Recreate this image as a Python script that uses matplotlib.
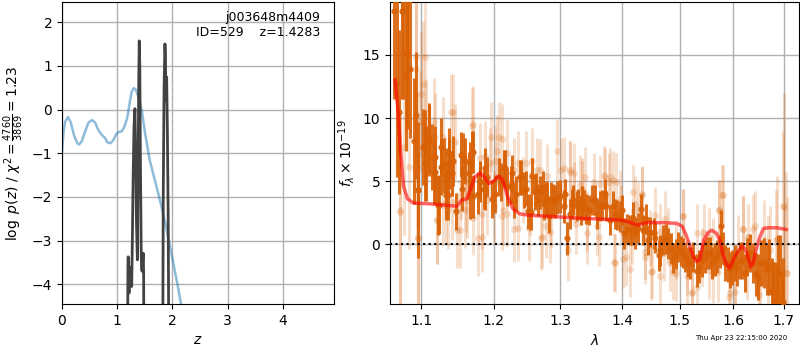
import numpy as np
import matplotlib
matplotlib.use("Agg")
import matplotlib.pyplot as plt
from matplotlib.ticker import FixedLocator, FixedFormatter, NullLocator

# ---------------- left panel data ----------------
z_prior = [0.00, 0.03, 0.06, 0.11, 0.16, 0.22, 0.28, 0.31, 0.36, 0.42, 0.48, 0.55,
           0.60, 0.65, 0.72, 0.78, 0.82, 0.88, 0.93, 0.98, 1.02, 1.08, 1.13, 1.18,
           1.22, 1.26, 1.30, 1.34, 1.38, 1.42, 1.45, 1.50, 1.59, 1.70, 1.80, 1.90,
           2.00, 2.10, 2.20]
logp_prior = [-0.95, -0.50, -0.27, -0.17, -0.30, -0.60, -0.78, -0.80, -0.72, -0.50,
              -0.30, -0.24, -0.30, -0.45, -0.58, -0.65, -0.75, -0.77, -0.70, -0.57,
              -0.52, -0.50, -0.40, -0.20, 0.10, 0.40, 0.49, 0.45, 0.30, 0.12, -0.05,
              -0.50, -1.16, -1.70, -2.20, -2.76, -3.40, -4.05, -4.75]

z_pz = [1.180, 1.195, 1.200, 1.205, 1.215, 1.225, 1.235, 1.250, 1.263, 1.275, 1.290,
        1.305, 1.322, 1.335, 1.350, 1.366, 1.378, 1.390, 1.400, 1.410, 1.420, 1.435,
        1.443, 1.455, 1.465, 1.473, 1.480, 1.487, 1.650, 1.820, 1.835, 1.850, 1.866,
        1.875, 1.885, 1.897, 1.910, 1.925, 1.945]
logpz = [-8.0, -3.6, -3.37, -3.6, -4.2, -3.6, -4.0, -3.9, -4.05, -3.0, -1.5,
         -0.4, 0.02, -1.0, -2.6, -3.44, -1.5, 0.5, 1.57, 1.0, -1.0, -3.2,
         -3.67, -3.7, -3.4, -3.29, -3.8, -8.0, -20.0, -8.0, -2.0, 0.5, 1.50,
         1.2, 0.2, 0.74, -0.5, -2.5, -8.0]

# ---------------- right panel data ----------------
# opaque (binned) spectrum points, first set
wave_dark_a = [1.065, 1.0754, 1.068, 1.0715, 1.081, 1.080, 1.085, 1.090, 1.093, 1.096,
               1.103, 1.107, 1.110, 1.114, 1.118, 1.123, 1.127, 1.131, 1.133, 1.138,
               1.142, 1.147, 1.154, 1.160, 1.169, 1.165, 1.167, 1.178, 1.180, 1.187,
               1.191, 1.202, 1.210, 1.215, 1.220, 1.227, 1.232, 1.239, 1.244, 1.251,
               1.256, 1.261, 1.266, 1.273, 1.278, 1.283, 1.289, 1.295, 1.305, 1.311,
               1.315, 1.320, 1.328, 1.333, 1.341, 1.350, 1.358, 1.366, 1.374, 1.380,
               1.388, 1.396, 1.404, 1.413, 1.422, 1.432, 1.436, 1.445, 1.454, 1.463,
               1.471, 1.480, 1.489, 1.497, 1.507, 1.516, 1.525, 1.531, 1.541, 1.550,
               1.559, 1.568, 1.574, 1.584, 1.593, 1.6025, 1.612, 1.622, 1.632, 1.639,
               1.649, 1.659, 1.669, 1.675, 1.682, 1.689, 1.696]
flux_dark_a = [18.5, 18.5, 12.8, 10.5, 15.1, 13.4, 13.9, 8.2, 10.2, 4.3,
               7.7, 6.4, 8.2, 6.9, 5.7, 3.1, 6.1, 6.25, 3.9, 6.4,
               5.6, 2.6, 7.1, 6.6, 7.3, 5.6, 3.7, 4.0, 4.9, 4.3,
               5.3, 4.0, 4.9, 6.0, 4.5, 5.6, 4.0, 5.3, 4.3, 2.6,
               5.4, 4.1, 3.5, 4.5, 3.7, 2.2, 3.5, 3.7, 3.0, 0.45,
               2.4, 3.5, 3.2, 2.7, 2.8, 3.5, 2.4, 3.1, 3.0, 1.9,
               2.4, 2.2, 0.85, 1.1, 0.85, 2.8, 1.1, 0.3, 0.85, -0.9,
               0.3, 0.05, -1.1, -0.2, -0.7, -1.4, -1.0, -2.1, -1.3, -0.7,
               -1.5, -1.0, -0.6, -1.5, -2.05, -1.5, -1.3, -2.3, -0.7, -1.5,
               -2.6, -1.5, -1.8, -3.6, -4.4, -2.3, -6.0]
err_dark_a = [7.0, 7.0, 7.5, 6.5, 6.0, 6.0, 5.5, 5.0, 5.0, 5.4,
              3.0, 3.0, 2.8, 2.6, 2.5, 2.4, 2.2, 2.2, 2.0, 2.0,
              1.8, 1.45, 1.8, 1.8, 1.7, 1.7, 1.7, 1.6, 1.6, 1.6,
              1.6, 1.5, 1.5, 1.5, 1.5, 1.5, 1.4, 1.4, 1.4, 1.4,
              1.4, 1.4, 1.3, 1.3, 1.3, 1.3, 1.3, 1.3, 1.3, 1.3,
              1.2, 1.2, 1.2, 1.2, 1.2, 1.2, 1.2, 1.2, 1.2, 1.2,
              1.2, 1.2, 1.2, 1.2, 1.2, 1.2, 1.2, 1.2, 1.2, 1.2,
              1.2, 1.2, 1.2, 1.2, 1.2, 1.2, 1.2, 1.3, 1.3, 1.3,
              1.3, 1.3, 1.3, 1.4, 1.4, 1.4, 1.5, 1.5, 1.5, 1.6,
              1.8, 2.0, 2.2, 2.5, 3.0, 3.0, 3.5]

# opaque spectrum points, second set
wave_dark_b = [1.076, 1.082, 1.105, 1.111, 1.119, 1.126, 1.138, 1.157, 1.171, 1.096,
               1.105, 1.117, 1.124, 1.133, 1.136, 1.143, 1.155, 1.167, 1.171, 1.181,
               1.188, 1.186, 1.198, 1.207, 1.217, 1.225, 1.230, 1.240, 1.247, 1.255,
               1.262, 1.268, 1.274, 1.280, 1.285, 1.292, 1.2995, 1.3075, 1.318, 1.326,
               1.334, 1.337, 1.345, 1.356, 1.364, 1.372, 1.384, 1.392, 1.400, 1.408,
               1.417, 1.419, 1.427, 1.440, 1.448, 1.457, 1.466, 1.475, 1.484, 1.493,
               1.502, 1.510, 1.519, 1.536, 1.546, 1.555, 1.565, 1.577, 1.580, 1.589,
               1.598, 1.607, 1.617, 1.627, 1.644, 1.654, 1.665, 1.678, 1.686, 1.692,
               1.699]
flux_dark_b = [18.5, 15.2, 7.6, 8.4, 6.9, 7.7, 7.2, 7.0, 7.3, 4.3,
               6.4, 5.7, 3.1, 5.4, 3.9, 6.6, 4.4, 6.4, 3.8, 5.0,
               6.0, 4.4, 3.6, 5.3, 6.0, 4.7, 3.5, 5.3, 4.4, 2.55,
               4.3, 4.1, 3.2, 3.6, 3.6, 3.4, 3.8, 4.0, 3.2, 3.0,
               3.4, 3.1, 2.7, 3.5, 3.0, 4.0, 3.0, 2.3, 2.7, 1.2,
               1.1, 2.1, 1.3, 2.0, 0.95, 0.5, -0.5, 0.4, -0.35, -0.8,
               -0.55, -1.0, -1.5, -1.8, -1.0, -0.7, -1.2, 1.4, -0.3, -1.6,
               -1.85, -1.9, -1.3, -1.0, -2.4, -1.5, -2.0, -3.9, -4.4, -2.3,
               -4.6]
err_dark_b = [7.0, 6.0, 3.0, 2.8, 2.5, 2.3, 2.0, 1.8, 1.7, 3.0,
              3.0, 2.5, 2.3, 2.2, 2.0, 2.0, 1.8, 1.7, 1.7, 1.6,
              1.6, 1.6, 1.5, 1.5, 1.5, 1.5, 1.4, 1.4, 1.4, 1.4,
              1.3, 1.3, 1.3, 1.3, 1.3, 1.3, 1.3, 1.2, 1.2, 1.2,
              1.2, 1.2, 1.2, 1.2, 1.2, 1.2, 1.2, 1.2, 1.2, 1.2,
              1.2, 1.2, 1.2, 1.2, 1.2, 1.2, 1.2, 1.2, 1.2, 1.2,
              1.2, 1.2, 1.3, 1.3, 1.3, 1.3, 1.3, 1.3, 1.3, 1.4,
              1.4, 1.4, 1.5, 1.5, 1.7, 1.8, 2.0, 2.5, 2.8, 3.0,
              3.5]

# faint (unbinned) points, first set
wave_light_a = [1.072, 1.096, 1.093, 1.093, 1.078, 1.084, 1.098, 1.107, 1.118, 1.121,
                1.129, 1.136, 1.140, 1.145, 1.149, 1.154, 1.159, 1.161, 1.170, 1.178,
                1.184, 1.190, 1.195, 1.200, 1.205, 1.208, 1.214, 1.220, 1.230, 1.235,
                1.243, 1.247, 1.254, 1.264, 1.270, 1.278, 1.285, 1.294, 1.301, 1.312,
                1.315, 1.322, 1.325, 1.335, 1.343, 1.354, 1.362, 1.370, 1.378, 1.386,
                1.390, 1.398, 1.406, 1.416, 1.421, 1.427, 1.434, 1.439, 1.450, 1.456,
                1.466, 1.473, 1.480, 1.489, 1.494, 1.507, 1.513, 1.522, 1.531, 1.544,
                1.553, 1.562, 1.573, 1.580, 1.571, 1.592, 1.6025, 1.609, 1.618, 1.626,
                1.639, 1.651, 1.659, 1.672, 1.685, 1.698, 1.705]
flux_light_a = [2.7, 0.5, 13.9, 14.8, 7.7, 6.1, 9.7, 9.1, 8.5, 1.9,
                8.5, 2.8, 10.5, 8.1, 1.1, 4.9, 2.7, 4.0, 9.5, 0.5,
                2.4, 3.5, 6.4, 3.0, 7.4, 8.5, 2.7, 2.4, 1.2, 6.4,
                4.3, 6.4, 3.2, 5.9, 0.45, 1.4, 2.2, 7.4, 5.9, -0.5,
                5.7, 5.6, 1.6, 4.4, 0.85, 4.9, 0.6, 5.5, 4.9, -1.4,
                4.9, 2.4, -1.0, 0.6, 3.2, 2.7, 3.9, -1.0, -2.2, 2.3,
                1.0, -0.7, 0.7, -2.2, -0.6, 2.2, -1.8, -3.9, -3.4, 0.85,
                -2.05, -0.2, 2.7, 3.9, -2.2, -4.2, -3.8, -0.2, 1.2, -1.8,
                1.2, -4.0, 0.3, -0.5, 0.3, 3.0, -2.3]
err_light_a = [8.0, 8.0, 7.0, 7.0, 7.0, 6.5, 4.0, 4.0, 3.5, 3.5,
               3.2, 3.2, 3.0, 3.0, 3.0, 3.0, 3.0, 3.0, 3.0, 3.0,
               2.8, 2.8, 2.8, 2.8, 2.8, 2.8, 2.8, 2.6, 2.6, 2.6,
               2.6, 2.6, 2.5, 2.5, 2.5, 2.5, 2.5, 2.5, 2.5, 2.4,
               2.4, 2.4, 2.4, 2.4, 2.4, 2.3, 2.3, 2.3, 2.3, 2.3,
               2.3, 2.3, 2.3, 2.2, 2.2, 2.2, 2.2, 2.2, 2.2, 2.2,
               2.2, 2.2, 2.2, 2.2, 2.2, 2.2, 2.2, 2.3, 2.3, 2.3,
               2.3, 2.3, 2.4, 2.4, 2.4, 2.5, 2.5, 2.5, 2.6, 2.6,
               2.8, 3.0, 3.2, 3.5, 4.0, 6.0, 8.0]

# faint points, second set
wave_light_b = [1.181, 1.188, 1.196, 1.202, 1.212, 1.212, 1.220, 1.230, 1.235, 1.252,
                1.257, 1.269, 1.272, 1.279, 1.284, 1.305, 1.315, 1.321, 1.331, 1.339,
                1.334, 1.342, 1.358, 1.364, 1.372, 1.379, 1.385, 1.388, 1.396, 1.402,
                1.413, 1.419, 1.433, 1.439, 1.448, 1.451, 1.465, 1.474, 1.483, 1.494,
                1.506, 1.513, 1.522, 1.531, 1.540, 1.553, 1.562, 1.572, 1.578, 1.593,
                1.6025, 1.619, 1.629, 1.643, 1.653, 1.667, 1.687, 1.700, 1.707, 1.073,
                1.096, 1.121, 1.129, 1.133, 1.141, 1.153, 1.162, 1.171, 1.183, 1.094,
                1.105, 1.103, 1.100, 1.117, 1.143, 1.169]
flux_light_b = [6.8, 7.0, 8.5, 6.6, 8.3, 2.2, 7.2, 5.85, 1.25, 1.3,
                6.6, 5.85, 0.6, 5.4, 1.0, 6.0, 5.85, 4.1, 4.7, 5.3,
                4.2, 1.8, 1.4, 4.8, 5.35, 5.35, 5.1, -1.5, 3.6, -1.2,
                -2.0, 4.1, 4.0, -0.6, 0.5, -2.1, -2.5, 2.0, -1.5, -2.3,
                2.2, -2.5, -3.8, 0.9, -1.0, 0.6, -2.3, 2.7, 3.9, -3.85,
                -2.6, 1.2, 0.6, 1.4, -3.1, -1.3, 0.4, 2.95, -2.3, 2.55,
                0.5, 1.9, 3.1, 3.3, 3.3, 1.1, 3.5, 2.1, 0.6, 6.1,
                14.8, 12.7, 11.9, 9.7, 10.5, 9.4]
err_light_b = [2.8, 2.8, 2.8, 2.8, 2.8, 2.7, 2.7, 2.6, 2.6, 2.6,
               2.6, 2.5, 2.5, 2.5, 2.5, 2.5, 2.4, 2.4, 2.4, 2.4,
               2.4, 2.4, 2.3, 2.3, 2.3, 2.3, 2.3, 2.3, 2.3, 2.3,
               2.2, 2.2, 2.2, 2.2, 2.2, 2.2, 2.2, 2.2, 2.2, 2.2,
               2.2, 2.3, 2.3, 2.3, 2.3, 2.3, 2.4, 2.4, 2.4, 2.5,
               2.5, 2.6, 2.6, 2.8, 3.0, 3.5, 5.0, 9.0, 6.0, 8.0,
               6.0, 3.5, 3.2, 3.2, 3.0, 3.0, 3.0, 3.0, 2.8, 6.0,
               5.0, 5.0, 5.0, 3.5, 3.0, 3.0]

wave_model = [1.066, 1.070, 1.073, 1.077, 1.082, 1.090, 1.110, 1.130, 1.148, 1.155,
              1.162, 1.167, 1.173, 1.180, 1.187, 1.193, 1.200, 1.207, 1.213, 1.220,
              1.228, 1.238, 1.250, 1.280, 1.300, 1.330, 1.358, 1.380, 1.400, 1.412,
              1.425, 1.442, 1.470, 1.495, 1.505, 1.512, 1.519, 1.525, 1.531, 1.537,
              1.544, 1.552, 1.559, 1.568, 1.575, 1.581, 1.587, 1.593, 1.6025, 1.610,
              1.617, 1.621, 1.626, 1.634, 1.639, 1.644, 1.651, 1.659, 1.670, 1.685,
              1.705]
flux_model = [13.0, 10.5, 7.5, 4.6, 3.6, 3.25, 3.2, 3.1, 3.0, 3.5,
              3.6, 4.3, 5.3, 5.65, 5.3, 4.8, 5.0, 5.4, 5.1, 3.8,
              2.8, 2.4, 2.3, 2.2, 2.15, 2.05, 2.0, 1.95, 1.9, 1.75,
              1.5, 1.7, 1.7, 1.65, 1.4, 0.7, -0.2, -1.0, -1.4, -1.2,
              0.3, 0.9, 1.1, 0.85, 0.2, -1.0, -1.6, -1.9, -1.0, -0.5,
              -0.16, -0.3, -0.7, -1.8, -1.4, -0.5, 0.5, 1.24, 1.3, 1.3,
              1.16]

xticks_right = [1.1, 1.2, 1.3, 1.4, 1.5, 1.6, 1.7]
xticklabels_right = ['1.1', '1.2', '1.3', '1.4', '1.5', '1.6', '1.7']

wave_dark = wave_dark_a + wave_dark_b
flux_dark = flux_dark_a + flux_dark_b
err_dark = err_dark_a + err_dark_b
wave_light = wave_light_a + wave_light_b
flux_light = flux_light_a + flux_light_b
err_light = err_light_a + err_light_b

orange = (0.85, 0.38, 0.02)

fig = plt.figure(figsize=(8, 3.5), dpi=100)
ax1 = fig.add_axes([0.0775, 0.1314, 0.34, 0.8629])
ax2 = fig.add_axes([0.4875, 0.1314, 0.5115, 0.8629])

# left panel
ax1.plot(z_prior, logp_prior, color=(0.12, 0.47, 0.71), alpha=0.5, lw=1.8)
ax1.plot(z_pz, logpz, color='0.22', lw=2.0, alpha=0.95)
ax1.set_xlim(0, 4.93)
ax1.set_ylim(-4.45, 2.46)
ax1.set_xticks([0, 1, 2, 3, 4])
ax1.set_yticks([-4, -3, -2, -1, 0, 1, 2])
ax1.grid(True, color='#b0b0b0', lw=1)
ax1.set_xlabel(r'$z$')
ax1.set_ylabel(r'$\log\ p(z)$' + ' / ' + r'$\chi^2=\frac{4760}{3869}=1.23$')
ax1.text(0.95, 0.97, 'j003648m4409\nID=529    z=1.4283', transform=ax1.transAxes,
         ha='right', va='top', fontsize=9, linespacing=1.15)

# right panel
ax2.errorbar(wave_light, flux_light, yerr=err_light, fmt='o', color=orange,
             alpha=0.2, ms=5, elinewidth=2.2, capsize=0, mec='none', zorder=2)
ax2.errorbar(wave_dark, flux_dark, yerr=err_dark, fmt='o', color=orange,
             alpha=0.9, ms=4.5, elinewidth=2.2, capsize=0, mec='none', zorder=3)
ax2.plot(wave_model, flux_model, color='r', alpha=0.6, lw=2.5, zorder=4)
ax2.axhline(0, color='k', ls=':', lw=1.5, zorder=5)
ax2.set_xscale('log')
ax2.set_xlim(1.0596, 1.7316)
ax2.set_ylim(-4.75, 19.2)
ax2.xaxis.set_major_locator(FixedLocator(xticks_right))
ax2.xaxis.set_major_formatter(FixedFormatter(xticklabels_right))
ax2.xaxis.set_minor_locator(NullLocator())
ax2.set_yticks([0, 5, 10, 15])
ax2.grid(True, color='#b0b0b0', lw=1)
ax2.set_xlabel(r'$\lambda$')
ax2.set_ylabel(r'$f_\lambda\times10^{-19}$')

fig.text(0.984, 0.025, 'Thu Apr 23 22:15:00 2020', fontsize=5, ha='right', va='bottom')

fig.savefig('out.png', dpi=100)
